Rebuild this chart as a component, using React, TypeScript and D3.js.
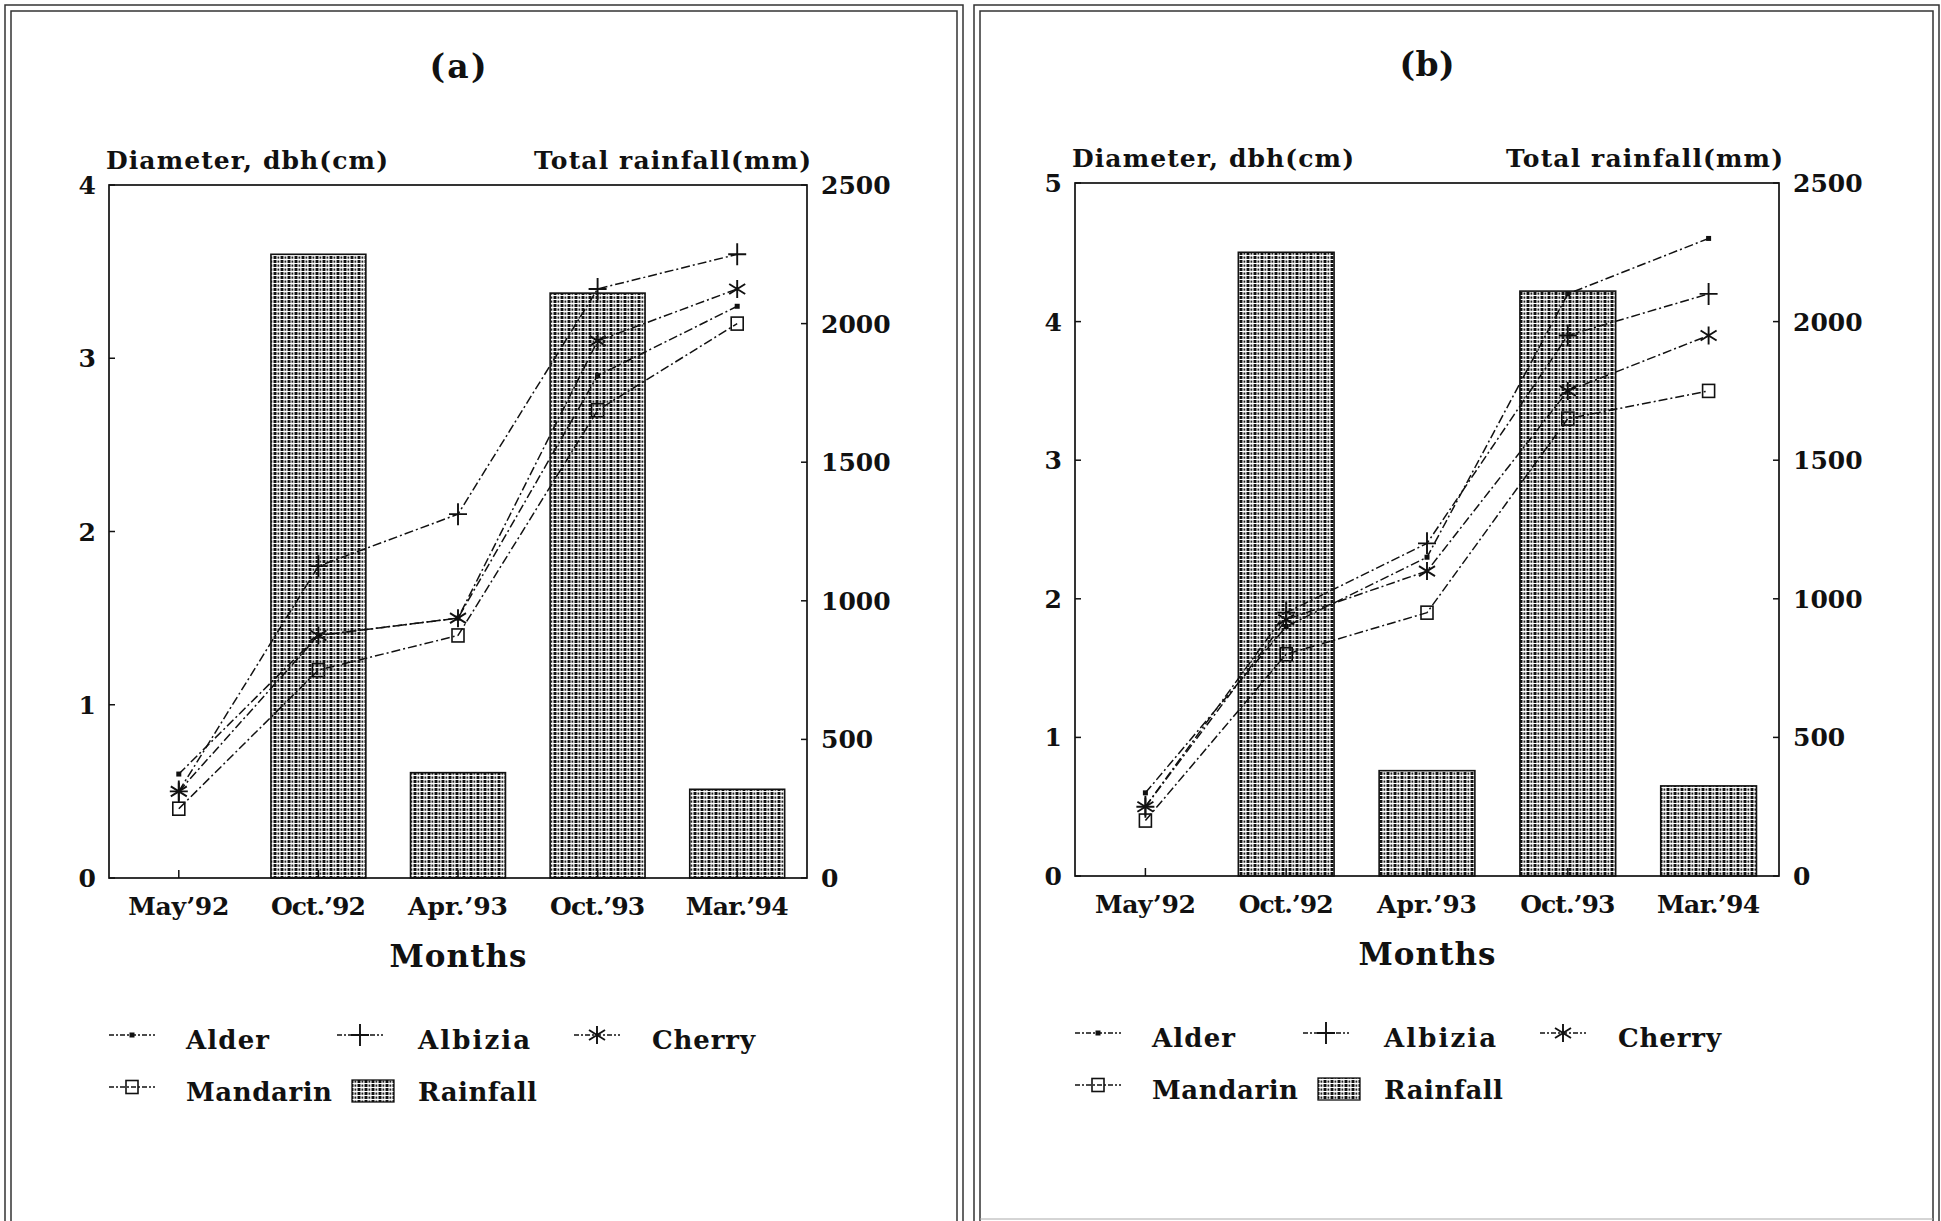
import React from "react";
import * as d3 from "d3";

const W = 1941;
const H = 1221;

// categories and values
const months = ["May’92", "Oct.’92", "Apr.’93", "Oct.’93", "Mar.’94"];
const monthWidths = [101, 95, 100, 95, 103];

const rainfallA = [0, 2250, 380, 2110, 320];
const alderA = [0.6, 1.4, 1.5, 2.9, 3.3];
const albiziaA = [0.5, 1.8, 2.1, 3.4, 3.6];
const cherryA = [0.5, 1.4, 1.5, 3.1, 3.4];
const mandarinA = [0.4, 1.2, 1.4, 2.7, 3.2];

const rainfallB = [0, 2250, 380, 2110, 325];
const alderB = [0.6, 1.8, 2.3, 4.2, 4.6];
const albiziaB = [0.5, 1.9, 2.4, 3.9, 4.2];
const cherryB = [0.5, 1.85, 2.2, 3.5, 3.9];
const mandarinB = [0.4, 1.6, 1.9, 3.3, 3.5];

const rainTicks = [0, 500, 1000, 1500, 2000, 2500];

const FONT = "'DejaVu Serif', serif";
const INK = "#111";
const DASH = "9,3,2,3";

type Box = { l: number; t: number; r: number; b: number };

const panels = [
  {
    label: "(a)", labelW: 57, box: { l: 109, t: 185, r: 807, b: 878 }, yMax: 4, rain: rainfallA,
    series: [
      { name: "Alder", values: alderA, marker: "dot" },
      { name: "Albizia", values: albiziaA, marker: "plus" },
      { name: "Cherry", values: cherryA, marker: "star" },
      { name: "Mandarin", values: mandarinA, marker: "square" },
    ],
  },
  {
    label: "(b)", labelW: 55, box: { l: 1075, t: 183, r: 1779, b: 876 }, yMax: 5, rain: rainfallB,
    series: [
      { name: "Alder", values: alderB, marker: "dot" },
      { name: "Albizia", values: albiziaB, marker: "plus" },
      { name: "Cherry", values: cherryB, marker: "star" },
      { name: "Mandarin", values: mandarinB, marker: "square" },
    ],
  },
];

function Marker({ type, x, y }: { type: string; x: number; y: number }) {
  const t = `translate(${x},${y})`;
  if (type === "dot") return <rect transform={t} x={-2.5} y={-2.5} width={5} height={5} fill={INK} />;
  if (type === "plus")
    return <path transform={t} d="M-9,0H9M0,-11V11" stroke={INK} strokeWidth={1.9} fill="none" />;
  if (type === "star")
    return (
      <path transform={t} d="M0,-9V9M-8,-5L8,5M-8,5L8,-5" stroke={INK} strokeWidth={1.9} fill="none" />
    );
  return <rect transform={t} x={-6} y={-6.5} width={12} height={13} stroke={INK} strokeWidth={1.6} fill="none" />;
}

function Txt(props: any) {
  const { w, children, ...rest } = props;
  return (
    <text fontFamily={FONT} fontWeight="bold" fill={INK} textLength={w} lengthAdjust="spacing" {...rest}>
      {children}
    </text>
  );
}

function Panel({ p }: { p: (typeof panels)[0] }) {
  const box: Box = p.box;
  const x = d3.scaleBand().domain(months).range([box.l, box.r]).paddingInner(0.32).paddingOuter(0.16);
  const cx = (m: string) => (x(m) as number) + x.bandwidth() / 2;
  const y = d3.scaleLinear().domain([0, p.yMax]).range([box.b, box.t]);
  const yr = d3.scaleLinear().domain([0, 2500]).range([box.b, box.t]);
  const line = d3
    .line<number>()
    .x((_, i) => cx(months[i]))
    .y((d) => y(d));
  const mid = (box.l + box.r) / 2;
  const leftTicks = y.ticks(p.yMax);

  const legendItems = [
    { name: "Alder", marker: "dot", sx: 0, tx: 77, row: 0, w: 83 },
    { name: "Albizia", marker: "plus", sx: 228, tx: 309, row: 0, w: 112 },
    { name: "Cherry", marker: "star", sx: 465, tx: 543, row: 0, w: 103 },
    { name: "Mandarin", marker: "square", sx: 0, tx: 77, row: 1, w: 146 },
  ];
  const rowY = [box.b + 162, box.b + 214];

  return (
    <g>
      <Txt x={mid} y={box.t - 119} dy="0.35em" fontSize={33} textAnchor="middle" w={p.labelW}>
        {p.label}
      </Txt>
      <Txt x={box.l - 3} y={box.t - 16} fontSize={25} w={282}>
        Diameter, dbh(cm)
      </Txt>
      <Txt x={box.r + 4 - 277} y={box.t - 16} fontSize={25} w={277}>
        Total rainfall(mm)
      </Txt>

      {/* rainfall bars */}
      {p.rain.map((v, i) =>
        v > 0 ? (
          <rect
            key={i}
            x={x(months[i])}
            y={yr(v)}
            width={x.bandwidth()}
            height={box.b - yr(v)}
            fill="url(#dots)"
            stroke={INK}
            strokeWidth={1.6}
          />
        ) : null
      )}

      {/* plot frame */}
      <rect x={box.l} y={box.t} width={box.r - box.l} height={box.b - box.t} fill="none" stroke={INK} strokeWidth={1.7} />

      {leftTicks.map((t) => (
        <g key={"l" + t}>
          <line x1={box.l} x2={box.l + 6} y1={y(t)} y2={y(t)} stroke={INK} strokeWidth={1.5} />
          <Txt x={box.l - 13} y={y(t)} dy="0.36em" fontSize={25} textAnchor="end">
            {t}
          </Txt>
        </g>
      ))}
      {rainTicks.map((t) => (
        <g key={"r" + t}>
          <line x1={box.r - 6} x2={box.r} y1={yr(t)} y2={yr(t)} stroke={INK} strokeWidth={1.5} />
          <Txt x={box.r + 14} y={yr(t)} dy="0.36em" fontSize={25}>
            {t}
          </Txt>
        </g>
      ))}
      {months.map((m, i) => (
        <g key={m}>
          <line x1={cx(m)} x2={cx(m)} y1={box.b} y2={box.b - 8} stroke={INK} strokeWidth={1.5} />
          <Txt x={cx(m)} y={box.b + 28} dy="0.36em" fontSize={25} textAnchor="middle" w={monthWidths[i]}>
            {m}
          </Txt>
        </g>
      ))}
      <Txt x={mid} y={box.b + 78} dy="0.36em" fontSize={31} textAnchor="middle" w={137}>
        Months
      </Txt>

      {/* growth lines */}
      {p.series.map((s) => (
        <g key={s.name}>
          <path d={line(s.values) as string} fill="none" stroke={INK} strokeWidth={1.5} strokeDasharray={DASH} />
          {s.values.map((v, i) => (
            <Marker key={i} type={s.marker} x={cx(months[i])} y={y(v)} />
          ))}
        </g>
      ))}

      {/* legend */}
      {legendItems.map((it) => (
        <g key={it.name}>
          <line
            x1={box.l + it.sx}
            x2={box.l + it.sx + 46}
            y1={rowY[it.row] - 5}
            y2={rowY[it.row] - 5}
            stroke={INK}
            strokeWidth={1.4}
            strokeDasharray="5,2,2,2"
          />
          <Marker type={it.marker} x={box.l + it.sx + 23} y={rowY[it.row] - 5} />
          <Txt x={box.l + it.tx} y={rowY[it.row]} dy="0.36em" fontSize={26} w={it.w}>
            {it.name}
          </Txt>
        </g>
      ))}
      <rect x={box.l + 243} y={rowY[1] - 12} width={42} height={22} fill="url(#dots)" stroke={INK} strokeWidth={1.3} />
      <Txt x={box.l + 309} y={rowY[1]} dy="0.36em" fontSize={26} w={119}>
        Rainfall
      </Txt>
    </g>
  );
}

export default function App() {
  return (
    <div style={{ position: "absolute", left: 0, top: 0 }}>
      <svg width={W} height={H} style={{ display: "block", background: "#fff" }}>
        <defs>
          <pattern id="dots" patternUnits="userSpaceOnUse" width={7} height={4}>
            <rect width={7} height={4} fill="#fff" />
            <rect x={0.5} y={0} width={3} height={3} fill="#111" />
            <rect x={4.5} y={0.5} width={1.8} height={2.2} fill="#222" />
          </pattern>
        </defs>

        {/* double frames */}
        <g fill="none" stroke="#333" strokeWidth={1.5}>
          <path d="M5,1221V5H963V1221" />
          <path d="M11,1221V11H957V1221" />
          <path d="M974,1221V5H1939V1221" />
          <path d="M980,1221V11H1933V1221" />
          <path d="M980,1219H1933" stroke="#aaa" strokeWidth={1} />
        </g>

        {panels.map((p) => (
          <Panel key={p.label} p={p} />
        ))}
      </svg>
    </div>
  );
}
